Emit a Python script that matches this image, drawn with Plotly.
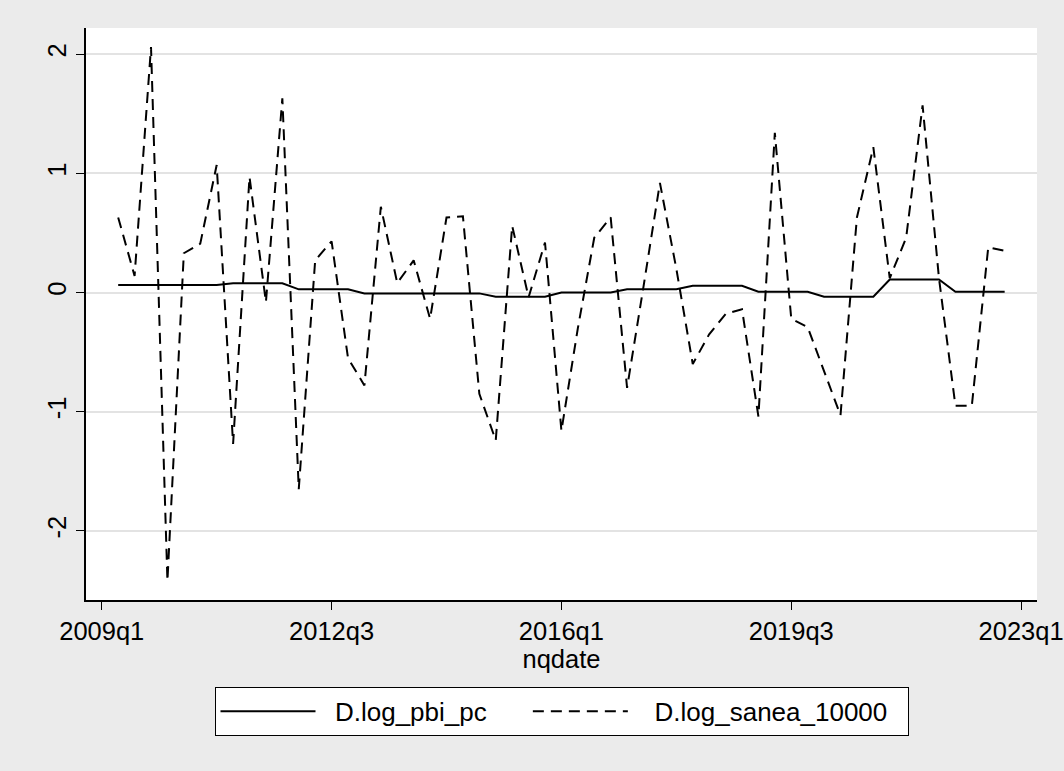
import plotly.graph_objects as go

# quarters 2009q1 .. 2023q1
quarters = [f"{y}q{q}" for y in range(2009, 2024) for q in range(1, 5)][:57]
data_quarters = quarters[1:56]  # 2009q2 .. 2022q4

log_pbi_pc = [0.063]*7 + [0.077]*4 + [0.027]*4 + [-0.007]*8 + [-0.035]*4 + \
    [0.0]*4 + [0.027]*4 + [0.057]*4 + [0.007]*4 + [-0.035]*4 + [0.11]*4 + [0.007]*4

log_sanea_10000 = [0.63, 0.14, 2.06, -2.42, 0.33, 0.41, 1.07, -1.27, 0.97, -0.08,
                   1.63, -1.65, 0.27, 0.43, -0.55, -0.78, 0.72, 0.08, 0.27, -0.22,
                   0.63, 0.64, -0.85, -1.24, 0.56, -0.04, 0.42, -1.16, -0.30, 0.46,
                   0.63, -0.80, 0.05, 0.92, 0.20, -0.60, -0.35, -0.18, -0.14, -1.04,
                   1.34, -0.22, -0.29, -0.66, -1.03, 0.63, 1.22, 0.12, 0.46, 1.57,
                   0.12, -0.95, -0.95, 0.38, 0.35]

x_ticks = ["2009q1", "2012q3", "2016q1", "2019q3", "2023q1"]
y_ticks = [-2, -1, 0, 1, 2]

FONT = "Liberation Sans, Arial, sans-serif"
FS = 25.5
NB = "\u00a0"

fig = go.Figure()
fig.add_trace(go.Scatter(x=data_quarters, y=log_pbi_pc, mode="lines",
                         name=NB*2 + "D.log_pbi_pc" + NB*5,
                         line=dict(color="black", width=2)))
fig.add_trace(go.Scatter(x=data_quarters, y=log_sanea_10000, mode="lines",
                         name=NB*3 + "D.log_sanea_10000" + NB*2,
                         line=dict(color="black", width=2, dash="11px,7px")))

fig.update_layout(
    width=1064, height=771,
    paper_bgcolor="#ebebeb", plot_bgcolor="white",
    margin=dict(l=86, r=27, t=28, b=171, autoexpand=False),
    font=dict(family=FONT, size=FS, color="black"),
    showlegend=True,
    legend=dict(orientation="h", x=0.5, xanchor="center", y=-0.152, yanchor="top",
                bgcolor="white", bordercolor="black", borderwidth=1,
                font=dict(size=26), itemwidth=95,
                traceorder="normal"),
    xaxis=dict(type="category", categoryorder="array", categoryarray=quarters,
               range=[-0.96, 56.97], tickmode="array", tickvals=x_ticks,
               ticktext=x_ticks, showgrid=False, zeroline=False, automargin=False,
               showline=True, linecolor="black", linewidth=1.5,
               ticks="outside", ticklen=8, tickcolor="black",
               title=dict(text="nqdate", standoff=0, font=dict(size=FS))),
    yaxis=dict(range=[-2.58, 2.22], tickmode="array", tickvals=y_ticks,
               ticktext=[str(v) for v in y_ticks], tickangle=-90, automargin=False,
               showgrid=True, gridcolor="#e3e3e3", gridwidth=1.5, zeroline=False,
               showline=True, linecolor="black", linewidth=1.5,
               ticks="outside", ticklen=8, tickcolor="black"),
)

fig.write_html("out.html")
